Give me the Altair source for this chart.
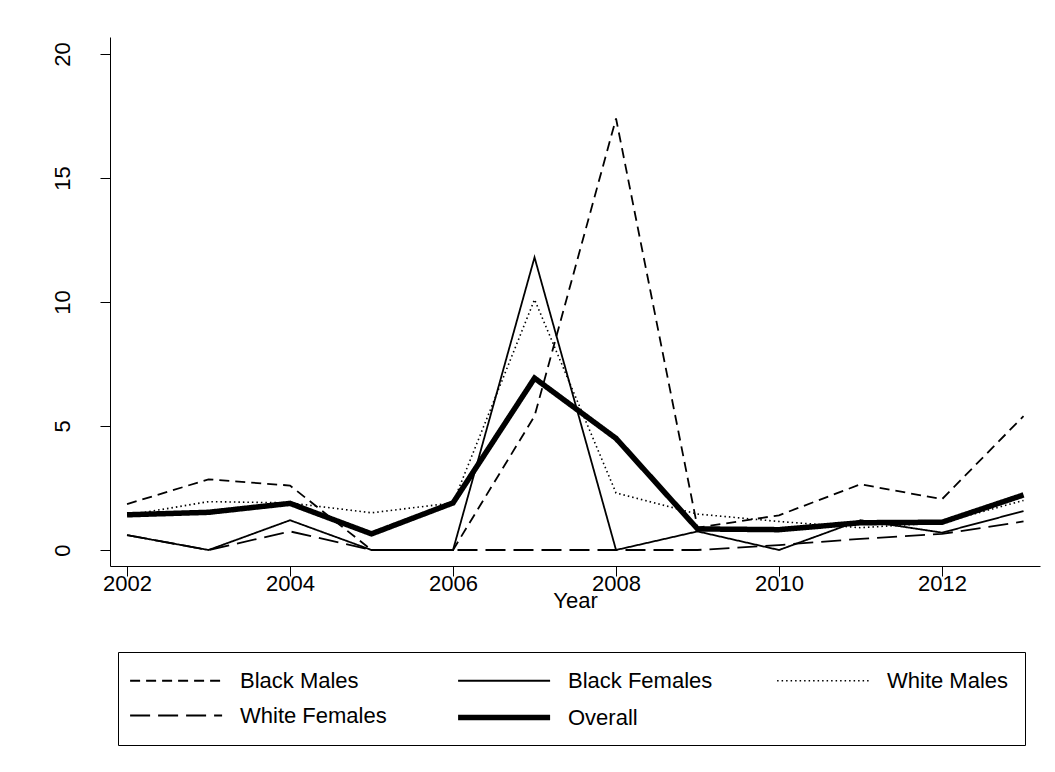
import altair as alt
import pandas as pd

years = list(range(2002, 2014))
series_names = ["Black Males", "Black Females", "White Males", "White Females", "Overall"]

black_males = [1.85, 2.85, 2.6, 0.0, 0.0, 5.4, 17.4, 0.9, 1.4, 2.65, 2.05, 5.4]
black_females = [0.6, 0.0, 1.2, 0.0, 0.0, 11.8, 0.0, 0.75, 0.0, 1.2, 0.7, 1.57]
white_males = [1.4, 1.95, 1.9, 1.5, 1.9, 10.1, 2.3, 1.45, 1.15, 0.9, 1.1, 2.0]
white_females = [0.6, 0.0, 0.75, 0.0, 0.0, 0.0, 0.0, 0.0, 0.2, 0.45, 0.65, 1.15]
overall = [1.42, 1.52, 1.88, 0.65, 1.9, 6.93, 4.5, 0.85, 0.82, 1.1, 1.12, 2.22]

x_ticks = [2002, 2004, 2006, 2008, 2010, 2012]
y_ticks = [0, 5, 10, 15, 20]

# styles (kept apart from the data)
dash_patterns = [[10, 6], [1, 0], [1.5, 3], [20, 8], [1, 0]]
line_widths = [1.8, 1.8, 1.6, 1.8, 5.5]

values = [black_males, black_females, white_males, white_females, overall]
rows = []
for name, vals in zip(series_names, values):
    for yr, v in zip(years, vals):
        rows.append({"series": name, "year": yr, "value": v})
df = pd.DataFrame(rows)

FONT = "Liberation Sans"

legend = alt.Legend(
    title=None,
    orient="none",
    legendX=8,
    legendY=615,
    direction="horizontal",
    columns=3,
    symbolType="M-1.6,0H6.4",
    symbolSize=529,
    symbolStrokeColor="black",
    labelFont=FONT,
    labelFontSize=22,
    labelColor="black",
    labelOffset=77,
    labelLimit=300,
    columnPadding=60,
    rowPadding=11,
    padding=16,
    strokeColor="black",
    fillColor="white",
    cornerRadius=0,
)

chart = (
    alt.Chart(df)
    .mark_line(color="black", strokeCap="butt")
    .encode(
        x=alt.X(
            "year:Q",
            scale=alt.Scale(domain=[2001.791, 2013.202], nice=False, zero=False),
            axis=alt.Axis(
                values=x_ticks,
                format="d",
                title="Year",
                titleFont=FONT,
                titleFontSize=22,
                titleFontWeight="normal",
                titleColor="black",
                titlePadding=-4,
                labelFont=FONT,
                labelFontSize=22,
                labelColor="black",
                labelPadding=-3,
                tickSize=10,
                tickColor="black",
                domainColor="black",
                grid=False,
                labelFlush=False,
            ),
        ),
        y=alt.Y(
            "value:Q",
            scale=alt.Scale(domain=[-0.645, 20.685], nice=False, zero=False),
            axis=alt.Axis(
                values=y_ticks,
                title=None,
                labelAngle=270,
                labelAlign="center",
                labelBaseline="bottom",
                labelFont=FONT,
                labelFontSize=22,
                labelColor="black",
                labelPadding=26,
                tickSize=10,
                tickColor="black",
                domainColor="black",
                grid=False,
                labelFlush=False,
            ),
        ),
        strokeDash=alt.StrokeDash(
            "series:N",
            scale=alt.Scale(domain=series_names, range=dash_patterns),
            legend=legend,
        ),
        strokeWidth=alt.StrokeWidth(
            "series:N",
            scale=alt.Scale(type="ordinal", domain=series_names, range=line_widths),
            legend=legend,
        ),
    )
    .properties(
        width=930,
        height=529,
        autosize=alt.AutoSizeParams(type="none"),
        padding={"left": 102, "top": 29, "right": 5, "bottom": 200},
        background="white",
    )
    .configure(font=FONT)
    .configure_view(stroke=None)
)

chart.save("out.html", embed_options={"renderer": "svg", "actions": False})
